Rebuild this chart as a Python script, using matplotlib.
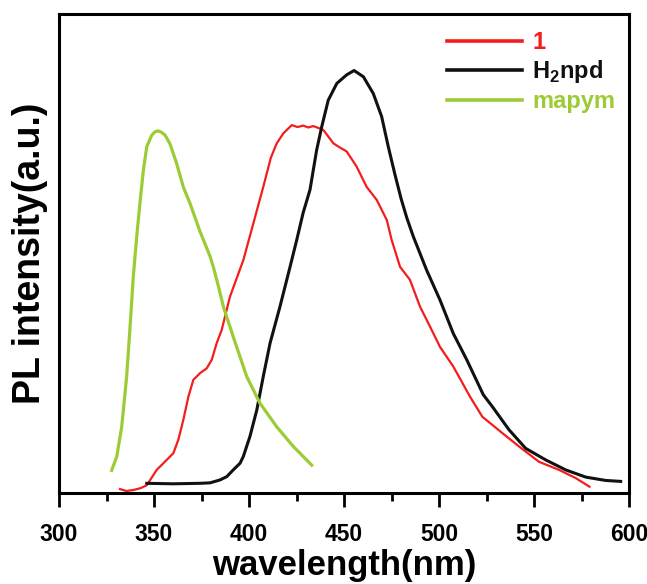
import matplotlib
matplotlib.use("Agg")
import matplotlib.pyplot as plt
from matplotlib.ticker import MultipleLocator

# PL spectra, intensities normalised so 1.0 = top of the frame
wl_1 = [332.1, 335.5, 339.1, 343.0, 346.2, 351.4, 356.7, 360.2, 362.8, 365.4,
        368.1, 370.7, 374.2, 377.7, 380.4, 383.0, 385.6, 390.0, 397.0, 402.3,
        407.5, 411.5, 414.6, 418.1, 422.5, 425.5, 428.6, 431.2, 433.8, 436.5,
        439.1, 444.4, 447.5, 451.4, 456.7, 461.9, 467.2, 472.5, 475.1, 479.5,
        484.7, 490.0, 495.3, 500.5, 507.5, 516.3, 522.8, 533.3, 542.1, 552.6,
        563.2, 571.9, 579.2]
pl_1 = [0.008, 0.004, 0.006, 0.010, 0.016, 0.048, 0.069, 0.083, 0.111, 0.152,
        0.201, 0.236, 0.250, 0.260, 0.278, 0.313, 0.340, 0.410, 0.486, 0.563,
        0.639, 0.700, 0.730, 0.751, 0.768, 0.764, 0.767, 0.763, 0.766, 0.762,
        0.758, 0.730, 0.722, 0.713, 0.681, 0.639, 0.612, 0.570, 0.528, 0.472,
        0.445, 0.389, 0.347, 0.305, 0.264, 0.201, 0.159, 0.125, 0.097, 0.065,
        0.048, 0.031, 0.013]

wl_h2npd = [346.2, 360.0, 374.2, 379.5, 384.7, 388.3, 391.7, 395.3, 397.0, 400.5,
            404.1, 407.5, 411.1, 416.3, 421.6, 425.1, 428.5, 432.1, 435.6, 438.3,
            441.7, 446.2, 451.4, 455.3, 460.2, 465.4, 469.8, 473.3, 476.8, 480.0,
            483.0, 486.5, 493.5, 500.5, 507.5, 514.6, 523.3, 528.1, 536.8, 545.6,
            556.1, 566.7, 577.2, 587.7, 595.6]
pl_h2npd = [0.020, 0.019, 0.020, 0.021, 0.027, 0.034, 0.048, 0.062, 0.076, 0.118,
            0.173, 0.243, 0.313, 0.389, 0.472, 0.528, 0.585, 0.633, 0.716, 0.765,
            0.820, 0.855, 0.873, 0.882, 0.869, 0.834, 0.786, 0.723, 0.665, 0.615,
            0.575, 0.535, 0.465, 0.403, 0.333, 0.278, 0.205, 0.180, 0.132, 0.093,
            0.069, 0.048, 0.033, 0.026, 0.024]

wl_mapym = [327.7, 330.4, 333.0, 335.6, 337.4, 339.1, 340.9, 342.6, 344.4, 346.2,
            348.8, 350.5, 352.3, 354.0, 355.8, 358.4, 361.9, 365.4, 368.9, 374.2,
            379.5, 381.2, 384.0, 386.5, 391.7, 398.8, 405.8, 414.6, 423.3, 433.0]
pl_mapym = [0.047, 0.076, 0.138, 0.243, 0.347, 0.452, 0.535, 0.605, 0.674, 0.723,
            0.747, 0.754, 0.756, 0.753, 0.747, 0.729, 0.688, 0.639, 0.605, 0.546,
            0.494, 0.472, 0.430, 0.389, 0.326, 0.243, 0.187, 0.138, 0.097, 0.058]

plt.rcParams["font.family"] = ["Liberation Sans", "DejaVu Sans"]
plt.rcParams["font.weight"] = "bold"
plt.rcParams["mathtext.fontset"] = "custom"
plt.rcParams["mathtext.rm"] = "Liberation Sans:bold"
plt.rcParams["mathtext.bf"] = "Liberation Sans:bold"

fig = plt.figure(figsize=(6.47, 5.84), dpi=100)
ax = fig.add_axes([0.0912, 0.156, 0.881, 0.820])

ax.plot(wl_1, pl_1, color="#f41c1c", lw=1.6, label="1")
ax.plot(wl_h2npd, pl_h2npd, color="#111111", lw=2.2, label=r"H$_{\mathbf{2}}$npd")
ax.plot(wl_mapym, pl_mapym, color="#9dcb35", lw=2.3, label="mapym")

ax.set_xlim(300, 600)
ax.set_ylim(0, 1)
ax.xaxis.set_major_locator(MultipleLocator(50))
ax.xaxis.set_minor_locator(MultipleLocator(25))
ax.tick_params(axis="x", which="major", direction="out", length=10, width=2,
               labelsize=16.5, pad=12)
ax.tick_params(axis="x", which="minor", direction="out", length=6, width=2)
ax.set_yticks([])
for s in ax.spines.values():
    s.set_linewidth(2.2)

ax.set_xlabel("wavelength(nm)", fontsize=25, fontweight="bold", labelpad=2)
ax.set_ylabel("PL intensity(a.u.)", fontsize=27, fontweight="bold", labelpad=8)

leg = ax.legend(loc="upper left", bbox_to_anchor=(0.68, 0.965), frameon=False,
                fontsize=17, handlelength=3.2, handletextpad=0.42,
                labelspacing=0.2, borderpad=0, borderaxespad=0,
                labelcolor="linecolor")
for line in leg.get_lines():
    line.set_linewidth(2.6)

fig.savefig("out.png", dpi=100)
